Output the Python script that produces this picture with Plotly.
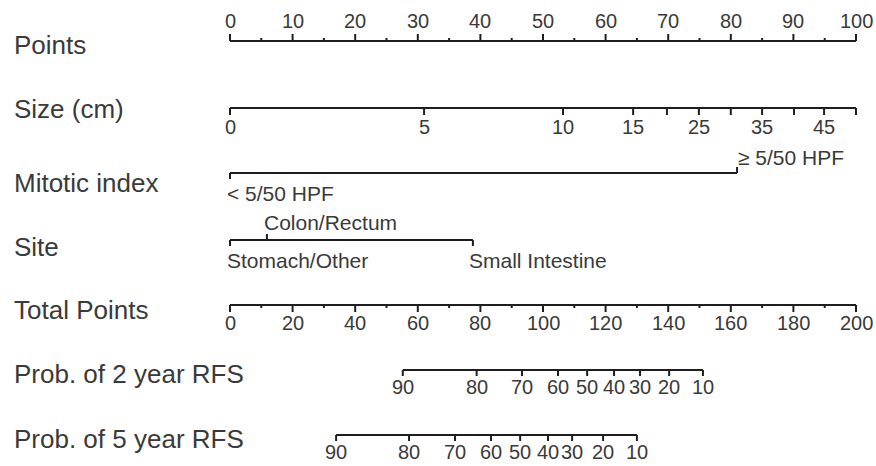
import plotly.graph_objects as go

# ---------------- data ----------------
row_names = ["Points", "Size (cm)", "Mitotic index", "Site", "Total Points",
             "Prob. of 2 year RFS", "Prob. of 5 year RFS"]

points_major = [0, 10, 20, 30, 40, 50, 60, 70, 80, 90, 100]
points_minor = [5, 15, 25, 35, 45, 55, 65, 75, 85, 95]

size_values = [0, 5, 10, 15, 20, 25, 30, 35, 40, 45, 50]
size_points = [0, 31.0, 53.2, 64.4, 69.8, 74.9, 80.0, 85.0, 90.1, 94.9, 100]
size_labels = ["0", "5", "10", "15", "", "25", "", "35", "", "45", ""]

mitotic_levels = ["< 5/50 HPF", "≥ 5/50 HPF"]
mitotic_points = [0, 81.0]

site_levels = ["Stomach/Other", "Colon/Rectum", "Small Intestine"]
site_points = [0, 5.9, 38.8]

total_major = [0, 20, 40, 60, 80, 100, 120, 140, 160, 180, 200]
total_minor = [10, 30, 50, 70, 90, 110, 130, 150, 170, 190]

rfs2_probs = [90, 80, 70, 60, 50, 40, 30, 20, 10]
rfs2_total = [55.2, 78.8, 93.3, 104.8, 114.1, 122.7, 131.0, 140.3, 151.1]

rfs5_probs = [90, 80, 70, 60, 50, 40, 30, 20, 10]
rfs5_total = [33.9, 57.2, 71.9, 83.4, 92.7, 101.6, 109.3, 119.2, 130.0]

# ---------------- layout constants ----------------
W, H = 876, 466
X0_PX, X1_PX = 230, 856            # pixel position of points 0 and 100
PX_PER_PT = (X1_PX - X0_PX) / 100.0
LABEL_X_PX = 12
row_y = [41, 108, 173, 240, 305, 370, 435]     # axis line y (pixels from top)
label_y = [45, 109, 183, 247, 310, 374, 439]   # row name y

LINE_COLOR = "#1e1e1e"
TEXT_COLOR = "#3a3a3a"
FONT = "Liberation Sans, Arial, sans-serif"
TICK_FONT = 20
CAT_FONT = 21
NAME_FONT = 26

fig = go.Figure()
annotations = []


def px_to_x(px):
    return (px - X0_PX) / PX_PER_PT


def add_axis(xs_pts, y, ticks_up, ticks_down):
    lo, hi = min(xs_pts), max(xs_pts)
    xs, ys = [lo, hi, None], [y, y, None]
    for x, ln in ticks_up:
        xs += [x, x, None]
        ys += [y, y - ln, None]
    for x, ln in ticks_down:
        xs += [x, x, None]
        ys += [y, y + ln, None]
    fig.add_trace(go.Scatter(x=xs, y=ys, mode="lines",
                             line=dict(color=LINE_COLOR, width=2),
                             hoverinfo="skip", showlegend=False))


def add_text(x, y, text, anchor="center", size=TICK_FONT, xshift=0):
    annotations.append(dict(x=x, y=y, xref="x", yref="y", text=text,
                            showarrow=False, xanchor=anchor, yanchor="middle",
                            xshift=xshift,
                            font=dict(family=FONT, size=size, color=TEXT_COLOR)))


# Points row
y = row_y[0]
add_axis(points_major, y,
         [(v, 7) for v in points_major] + [(v, 3) for v in points_minor], [])
for v in points_major:
    add_text(v, y - 20, str(v))

# Size row
y = row_y[1]
add_axis(size_points, y, [], [(p, 7) for p in size_points])
for p, lab in zip(size_points, size_labels):
    if lab:
        add_text(p, y + 19, lab)

# Mitotic index row
y = row_y[2]
add_axis(mitotic_points, y, [(mitotic_points[1], 6)], [(mitotic_points[0], 6)])
add_text(mitotic_points[0], y + 20, mitotic_levels[0], anchor="left", size=CAT_FONT, xshift=-5)
add_text(mitotic_points[1], y - 16, mitotic_levels[1], anchor="left", size=CAT_FONT, xshift=-1)

# Site row
y = row_y[3]
add_axis(site_points, y, [(site_points[1], 6)],
         [(site_points[0], 6), (site_points[2], 6)])
add_text(site_points[0], y + 20, site_levels[0], anchor="left", size=CAT_FONT, xshift=-5)
add_text(site_points[1], y - 18, site_levels[1], anchor="left", size=CAT_FONT, xshift=-5)
add_text(site_points[2], y + 20, site_levels[2], anchor="left", size=CAT_FONT, xshift=-6)

# Total points row (0-200 mapped to 0-100)
y = row_y[4]
add_axis([v / 2 for v in total_major], y,
         [], [(v / 2, 7) for v in total_major] + [(v / 2, 3) for v in total_minor])
for v in total_major:
    add_text(v / 2, y + 18, str(v))

# 2-year RFS
y = row_y[5]
add_axis([t / 2 for t in rfs2_total], y, [], [(t / 2, 6) for t in rfs2_total])
for p, t in zip(rfs2_probs, rfs2_total):
    add_text(t / 2, y + 17, str(p))

# 5-year RFS
y = row_y[6]
add_axis([t / 2 for t in rfs5_total], y, [], [(t / 2, 6) for t in rfs5_total])
for p, t in zip(rfs5_probs, rfs5_total):
    add_text(t / 2, y + 17, str(p))

# Row names
for name, ly in zip(row_names, label_y):
    add_text(px_to_x(LABEL_X_PX), ly, name, anchor="left", size=NAME_FONT)

fig.update_layout(
    width=W, height=H,
    margin=dict(l=0, r=0, t=0, b=0),
    paper_bgcolor="white", plot_bgcolor="white",
    xaxis=dict(range=[px_to_x(0), px_to_x(W)], visible=False, fixedrange=True),
    yaxis=dict(range=[H, 0], visible=False, fixedrange=True),
    annotations=annotations,
    showlegend=False,
)

fig.write_html("out.html", config={"displayModeBar": False},
               post_script="document.body.style.margin='0';document.body.style.padding='0';")
